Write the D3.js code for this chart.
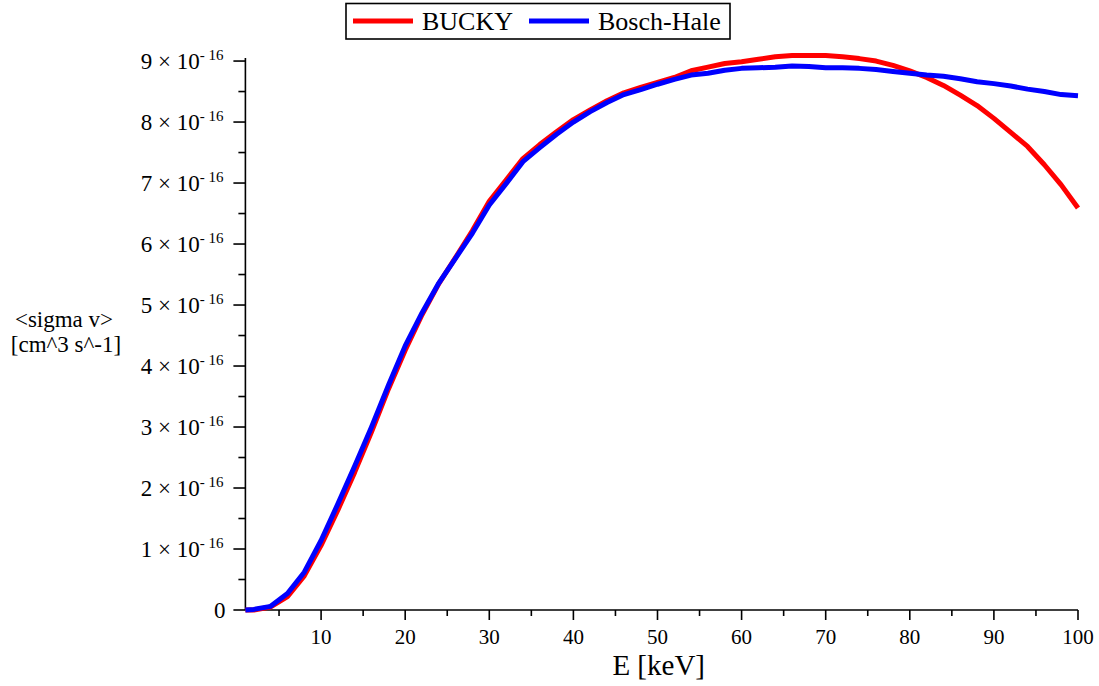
<!DOCTYPE html>
<html>
<head>
<meta charset="utf-8">
<script src="https://cdn.jsdelivr.net/npm/d3@7"></script>
<style>
    body { margin: 0; background: #fff; }
    svg, text, tspan { font-family: "Liberation Serif", "DejaVu Serif", serif; }
    text { fill: #000; }
    .ax { stroke: #000; stroke-width: 1.6; fill: none; }
</style>
</head>
<body>
<svg id="chart" width="1099" height="686" font-family="Liberation Serif, serif"></svg>
<script>
// energy grid [keV] and <sigma v> in units of 1e-16 cm^3/s
const E = [1, 2, 4, 6, 8, 10, 12, 14, 16, 18, 20, 22, 24, 26, 28, 30, 32, 34, 36, 38, 40,
    42, 44, 46, 48, 50, 52, 54, 56, 58, 60, 62, 64, 66, 68, 70, 72, 74, 76, 78, 80,
    82, 84, 86, 88, 90, 92, 94, 96, 98, 100];
const bucky = [0, 0, 0.05, 0.22, 0.56, 1.06, 1.64, 2.26, 2.92, 3.62, 4.26, 4.84, 5.35, 5.78, 6.22, 6.70,
    7.05, 7.40, 7.63, 7.84, 8.04, 8.20, 8.35, 8.48, 8.57, 8.65, 8.73, 8.84, 8.90, 8.96, 8.99,
    9.03, 9.07, 9.09, 9.09, 9.09, 9.07, 9.04, 9.00, 8.93, 8.84, 8.73, 8.60, 8.44, 8.27, 8.06,
    7.83, 7.60, 7.30, 6.97, 6.59];
const boschHale = [0, 0.01, 0.06, 0.27, 0.62, 1.14, 1.74, 2.36, 3.00, 3.68, 4.33, 4.87, 5.36, 5.77, 6.18, 6.64,
    6.99, 7.35, 7.58, 7.80, 8.00, 8.17, 8.32, 8.45, 8.53, 8.62, 8.70, 8.77, 8.80, 8.85, 8.88,
    8.89, 8.90, 8.92, 8.91, 8.89, 8.89, 8.88, 8.86, 8.83, 8.80, 8.77, 8.75, 8.71, 8.66, 8.63,
    8.59, 8.54, 8.50, 8.45, 8.43];
const series = [
    { name: "BUCKY", color: "#ff0000", vals: bucky },
    { name: "Bosch-Hale", color: "#0000ff", vals: boschHale }
];
const xMajor = [10, 20, 30, 40, 50, 60, 70, 80, 90, 100];
const xMinor = [5, 15, 25, 35, 45, 55, 65, 75, 85, 95];
const yMajor = [0, 1, 2, 3, 4, 5, 6, 7, 8, 9];
const yMinor = [0.5, 1.5, 2.5, 3.5, 4.5, 5.5, 6.5, 7.5, 8.5];

const W = 1099, H = 686, M = { l: 245.4, r: 21, t: 58, b: 76 };
const svg = d3.select("#chart");
const x = d3.scaleLinear().domain([1, 100]).range([M.l, W - M.r]);
const y = d3.scaleLinear().domain([0, 9.05]).range([H - M.b, M.t]);

// x axis
const gx = svg.append("g").attr("transform", `translate(0,${H - M.b})`);
gx.append("line").attr("class", "ax").attr("x1", x.range()[0]).attr("x2", x.range()[1]);
gx.selectAll(".mj").data(xMajor).join("line").attr("class", "ax")
    .attr("x1", d => x(d)).attr("x2", d => x(d)).attr("y1", 0).attr("y2", 10);
gx.selectAll(".mn").data(xMinor).join("line").attr("class", "ax")
    .attr("x1", d => x(d)).attr("x2", d => x(d)).attr("y1", 0).attr("y2", 6);
gx.selectAll("text").data(xMajor).join("text")
    .attr("x", d => x(d)).attr("y", 34).attr("text-anchor", "middle")
    .attr("font-size", 21).text(d => d);

// y axis
const gy = svg.append("g").attr("transform", `translate(${M.l},0)`);
gy.append("line").attr("class", "ax").attr("y1", y.range()[0]).attr("y2", y.range()[1]);
gy.selectAll(".mj").data(yMajor).join("line").attr("class", "ax")
    .attr("y1", d => y(d)).attr("y2", d => y(d)).attr("x1", -12).attr("x2", 0);
gy.selectAll(".mn").data(yMinor).join("line").attr("class", "ax")
    .attr("y1", d => y(d)).attr("y2", d => y(d)).attr("x1", -7).attr("x2", 0);
gy.selectAll("text").data(yMajor).join("text")
    .attr("x", -22).attr("y", d => y(d) + 7.5).attr("text-anchor", "end").attr("font-size", 23)
    .each(function (d) {
        const t = d3.select(this);
        if (d === 0) { t.attr("x", -20).text("0"); return; }
        t.append("tspan").text(d + " \u00d7 10");
        t.append("tspan").attr("font-size", 15).attr("dy", -9).text("- 16");
    });

// axis titles
svg.append("text").attr("x", (x.range()[0] + x.range()[1]) / 2 - 3).attr("y", 675)
    .attr("text-anchor", "middle").attr("font-size", 29).text("E [keV]");
const yt = svg.append("text").attr("text-anchor", "middle").attr("font-size", 23);
yt.append("tspan").attr("x", 64).attr("y", 327).text("<sigma v>");
yt.append("tspan").attr("x", 66).attr("y", 352).text("[cm^3 s^-1]");

// curves
const line = d3.line().x((d, i) => x(E[i])).y(d => y(d));
svg.selectAll(".curve").data(series).join("path").attr("class", "curve")
    .attr("d", s => line(s.vals)).attr("fill", "none")
    .attr("stroke", s => s.color).attr("stroke-width", 5).attr("stroke-linejoin", "round");

// legend
const lg = svg.append("g");
lg.append("rect").attr("x", 346).attr("y", 3.5).attr("width", 384).attr("height", 35.5)
    .attr("fill", "#fff").attr("stroke", "#000").attr("stroke-width", 1.6);
const lx = [353, 529];
series.forEach((s, i) => {
    lg.append("line").attr("x1", lx[i]).attr("x2", lx[i] + 60).attr("y1", 21).attr("y2", 21)
        .attr("stroke", s.color).attr("stroke-width", 5);
    lg.append("text").attr("x", lx[i] + 69).attr("y", 29.5).attr("font-size", 26).text(s.name);
});
</script>
</body>
</html>
